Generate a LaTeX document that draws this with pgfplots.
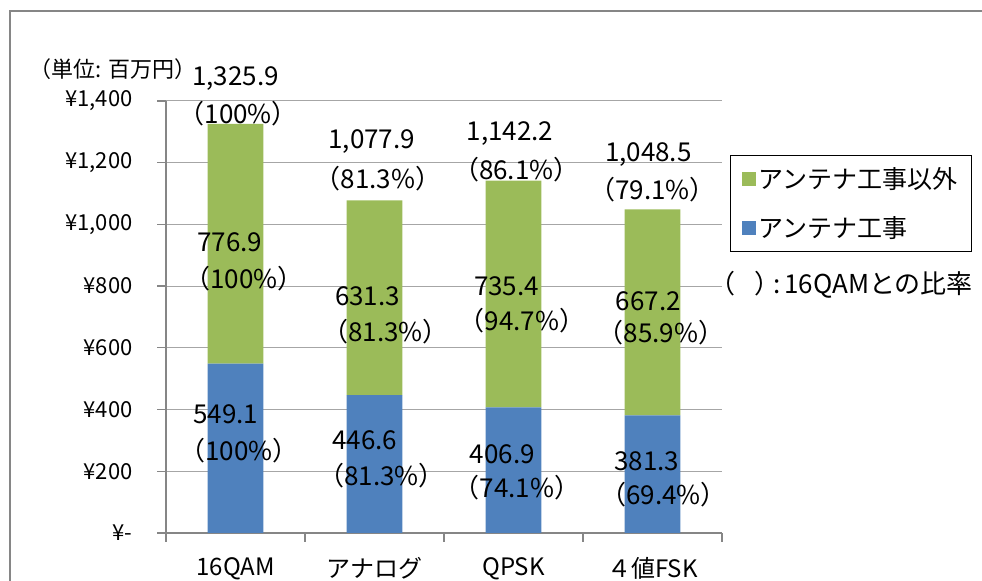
\documentclass[border=0pt]{standalone}
\usepackage{pgfplots}
\pgfplotsset{compat=1.18}
\usepackage{fontspec}
\setmainfont{Noto Sans CJK JP}
\definecolor{barblue}{HTML}{4F81BD}
\definecolor{bargreen}{HTML}{9BBB59}
\definecolor{gridgray}{HTML}{A6A6A6}
\definecolor{axisgray}{HTML}{868686}
\newcommand{\fs}[1]{\fontsize{#1bp}{#1bp}\selectfont}
\pgfplotsset{chartframe/.style={
  at={(166bp,48bp)}, anchor=south west,
  scale only axis, width=556bp, height=432bp,
  xmin=-0.5, xmax=3.5, ymin=0, ymax=1400, clip=false}}

\begin{document}
\begin{tikzpicture}[x=1bp,y=1bp]
\path[use as bounding box] (0,0) rectangle (982,581);
% chart area frame
\draw[axisgray, line width=2bp] (10,-40) rectangle (1100,570);
\node[font=\fs{22}] at (113,512) {（単位: 百万円）};
\node[font=\fs{26}, anchor=west, inner sep=0pt] at (709,296)
  {（\hspace{19bp}）\kern-7bp:\hspace{4bp}16QAMとの比率};

\begin{axis}[
  chartframe,
  ybar stacked, bar width=55.6bp,
  axis x line=bottom, axis y line=left,
  axis line style={-, axisgray, line width=1.3bp},
  xtick={0,1,2,3},
  xticklabels={16QAM,アナログ,QPSK,４値FSK},
  minor xtick={-0.5,0.5,1.5,2.5,3.5},
  major x tick style={draw=none},
  minor x tick style={axisgray, line width=1.3bp},
  minor tick length=9bp,
  ytick={0,200,...,1400},
  yticklabels={{¥-},{¥200},{¥400},{¥600},{¥800},{¥1,000},{¥1,200},{¥1,400}},
  y tick style={axisgray, line width=1.3bp},
  major tick length=9bp,
  tick align=outside,
  ymajorgrids, grid style={gridgray, line width=1bp},
  yticklabel style={font=\fs{22}, anchor=east, xshift=-21bp},
  xticklabel style={font=\fs{24}, anchor=north, yshift=-12bp},
  legend style={at={(1.0144,0.875)}, anchor=north west, draw=black,
    line width=0.8bp, font=\fs{25}, inner xsep=12bp, inner ysep=10bp,
    row sep=23bp},
  legend cell align=left,
  reverse legend,
  legend image code/.code={\fill[#1] (0bp,-7bp) rectangle (14bp,7bp);},
]
\addplot[fill=barblue, draw=none] coordinates {(0,549.1) (1,446.6) (2,406.9) (3,381.3)};
\addlegendentry{アンテナ工事}
\addplot[fill=bargreen, draw=none] coordinates {(0,776.9) (1,631.3) (2,735.4) (3,667.2)};
\addlegendentry{アンテナ工事以外}
\end{axis}

% value labels, drawn over the bars on the same data frame
\begin{axis}[chartframe, hide axis]
\addplot[draw=none, forget plot] coordinates {(0,0)};
% totals
\node[font=\fs{26}] at (axis cs:0.00,1474) {1,325.9};
\node[font=\fs{26}] at (axis cs:0.02,1358) {（100\%）};
\node[font=\fs{26}] at (axis cs:0.98,1267) {1,077.9};
\node[font=\fs{26}] at (axis cs:1.025,1150) {（81.3\%）};
\node[font=\fs{26}] at (axis cs:1.975,1293) {1,142.2};
\node[font=\fs{26}] at (axis cs:2.02,1176) {（86.1\%）};
\node[font=\fs{26}] at (axis cs:2.97,1228) {1,048.5};
\node[font=\fs{26}] at (axis cs:3.00,1112) {（79.1\%）};
% other-than-antenna share
\node[font=\fs{26}] at (axis cs:-0.04,943) {776.9};
\node[font=\fs{26}] at (axis cs:0.06,823) {（100\%）};
\node[font=\fs{26}] at (axis cs:0.95,768) {631.3};
\node[font=\fs{26}] at (axis cs:1.08,651) {（81.3\%）};
\node[font=\fs{26}] at (axis cs:1.95,800) {735.4};
\node[font=\fs{26}] at (axis cs:2.06,687) {（94.7\%）};
\node[font=\fs{26}] at (axis cs:2.97,752) {667.2};
\node[font=\fs{26}] at (axis cs:3.06,648) {（85.9\%）};
% antenna work share
\node[font=\fs{26}] at (axis cs:-0.07,386) {549.1};
\node[font=\fs{26}] at (axis cs:0.025,266) {（100\%）};
\node[font=\fs{26}] at (axis cs:0.93,301) {446.6};
\node[font=\fs{26}] at (axis cs:1.05,185) {（81.3\%）};
\node[font=\fs{26}] at (axis cs:1.92,256) {406.9};
\node[font=\fs{26}] at (axis cs:2.025,146) {（74.1\%）};
\node[font=\fs{26}] at (axis cs:2.96,233) {381.3};
\node[font=\fs{26}] at (axis cs:3.08,123) {（69.4\%）};
\end{axis}
\end{tikzpicture}
\end{document}
